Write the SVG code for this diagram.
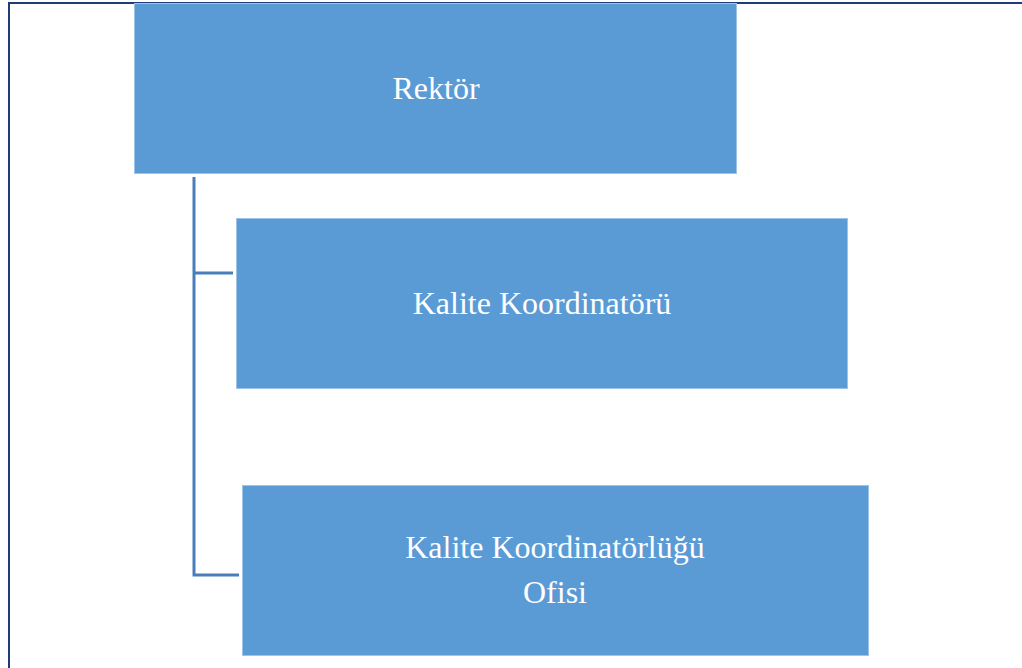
<svg xmlns="http://www.w3.org/2000/svg" width="1022" height="668" viewBox="0 0 1022 668">
<style>
.box{fill:#5B9BD5;stroke:#9DC3E6;stroke-width:1}
.lbl{font-family:"Liberation Serif","Times New Roman",serif;font-size:32px;fill:#FFFFFF;text-anchor:middle}
.conn{fill:none;stroke:#4A7EBB;stroke-width:3}
</style>
<rect x="0" y="0" width="1022" height="668" fill="#FFFFFF"/>
<path d="M9,668 V3 H1022" fill="none" stroke="#1F3B7A" stroke-width="2"/>
<g id="connectors">
<path class="conn" d="M194,177 V575 H239"/>
<path class="conn" d="M194,273 H233"/>
</g>
<g id="rektor">
<rect class="box" x="134.5" y="3.5" width="602" height="170"/>
<text class="lbl" x="436" y="99">Rektör</text>
</g>
<g id="kalite-koordinatoru">
<rect class="box" x="236.5" y="218.5" width="611" height="170"/>
<text class="lbl" x="542" y="314">Kalite Koordinatörü</text>
</g>
<g id="kalite-ofisi">
<rect class="box" x="242.5" y="485.5" width="626" height="170"/>
<text class="lbl" x="555" y="558">Kalite Koordinatörlüğü</text>
<text class="lbl" x="555" y="603">Ofisi</text>
</g>
</svg>
